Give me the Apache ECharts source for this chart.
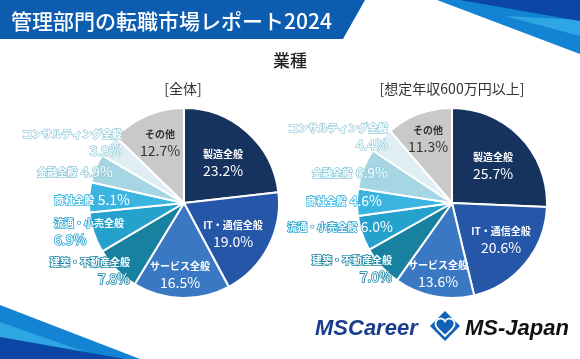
<!DOCTYPE html>
<html>
<head>
<meta charset="utf-8">
<script src="https://cdn.jsdelivr.net/npm/echarts@6/dist/echarts.min.js"></script>
<style>
html,body{margin:0;padding:0;background:#fff;}
#c{width:580px;height:359px;}
</style>
</head>
<body>
<div id="c"></div>
<script>
// ---- data ----
const categories = ['製造全般','IT・通信全般','サービス全般','建築・不動産全般','流通・小売全般','商社全般','金融全般','コンサルティング全般','その他'];
const valuesAll = [23.2, 19.0, 16.5, 7.8, 6.9, 5.1, 4.9, 3.9, 12.7];
const valuesHigh = [25.7, 20.6, 13.6, 7.0, 6.0, 4.6, 6.9, 4.4, 11.3];
const titleText = '管理部門の転職市場レポート2024';
const chartTitle = '業種';
const subTitles = ['[全体]', '[想定年収600万円以上]'];

// ---- styles ----
const sliceColors = ['#16325f','#2656a8','#3a78c4','#17819f','#24a1cd','#3bb4e0','#a6d6e3','#deeef3','#c9c9c9'];
const labelStroke = [null,null,null,'#1a86a6','#28a4d0','#3db6e2','#8fcadb','#9fd0de',null];
const oneLine = [
  [false,false,false,false,false,true,true,false,false],
  [false,false,false,false,true,true,true,false,false]
];
const layouts = [
  [
    {x:223,y:163,align:'center'},
    {x:233,y:234,align:'center'},
    {x:180,y:275,align:'center'},
    {x:130,y:271,align:'right'},
    {x:54,y:232,align:'left'},
    {x:130,y:200,align:'right'},
    {x:113,y:172,align:'right'},
    {x:122,y:143,align:'right'},
    {x:160,y:143,align:'center'}
  ],
  [
    {x:493,y:166,align:'center'},
    {x:501,y:240,align:'center'},
    {x:438,y:274,align:'center'},
    {x:392,y:269,align:'right'},
    {x:393,y:227,align:'right'},
    {x:382,y:201,align:'right'},
    {x:388,y:173,align:'right'},
    {x:388,y:137,align:'right'},
    {x:428,y:139,align:'center'}
  ]
];
const FONT = '"Noto Sans CJK JP","Noto Sans",sans-serif';

function buildData(values, si){
  return categories.map((name, i) => {
    const stroke = labelStroke[i];
    const isOther = i === 8;
    const fill = isOther ? '#333' : '#fff';
    const txt = oneLine[si][i]
      ? '{n|' + name + '} {v|' + values[i].toFixed(1) + '%}'
      : '{n|' + name + '}\n{v|' + values[i].toFixed(1) + '%}';
    const rich = {
      n:{fontSize:10, fontWeight:'bold', lineHeight:15, color:fill, fontFamily:FONT,
         textBorderColor: stroke || 'transparent', textBorderWidth: stroke ? 1.6 : 0},
      v:{fontSize:14, fontWeight:400, lineHeight:17, color:fill, fontFamily:FONT,
         textBorderColor: stroke || 'transparent', textBorderWidth: stroke ? 1.6 : 0}
    };
    return {
      name, value: values[i],
      itemStyle:{color:sliceColors[i]},
      label:{show:true, position:'inside', formatter: txt, rich}
    };
  });
}

const chart = echarts.init(document.getElementById('c'), null, {renderer:'canvas'});

function pieSeries(values, si, center){
  return {
    type:'pie',
    center, radius:95,
    startAngle:90, clockwise:true,
    avoidLabelOverlap:false,
    itemStyle:{borderColor:'#fff', borderWidth:2},
    labelLine:{show:false},
    emphasis:{disabled:true},
    silent:true,
    animation:false,
    labelLayout: function(p){
      const l = layouts[si][p.dataIndex];
      return {x:l.x, y:l.y, align:l.align, verticalAlign:'middle'};
    },
    data: buildData(values, si)
  };
}

const heart = [[445,336],[437.5,328.5],[435.5,325],[435.8,321.5],[438,319],[441,318.4],[443.6,319.5],[445,321.5],[446.4,319.5],[449,318.4],[452,319],[454.2,321.5],[454.5,325],[452.5,328.5]];

const option = {
  backgroundColor:'#fff',
  animation:false,
  series:[
    pieSeries(valuesAll, 0, [184,203]),
    pieSeries(valuesHigh, 1, [452,203])
  ],
  graphic:[
    // top-left banner
    {type:'polygon', z:0, shape:{points:[[0,0],[365,0],[343,39],[0,39]]}, style:{fill:'#0c5db0'}},
    {type:'text', z:2, x:11, y:21, style:{text:titleText, fill:'#fff', font:'500 21px '+FONT, align:'left', verticalAlign:'middle'}},
    // top-right stripes
    {type:'polygon', z:0, shape:{points:[[437,0],[580,0],[580,54]]}, style:{fill:'#1383d3'}},
    {type:'polygon', z:0, shape:{points:[[505,16],[580,20],[580,36]]}, style:{fill:'#2fa6e4'}},
    {type:'polygon', z:0, shape:{points:[[460,0],[580,0],[580,21]]}, style:{fill:'#0b45a6'}},
    // bottom-left stripes
    {type:'polygon', z:0, shape:{points:[[0,305],[140,359],[0,359]]}, style:{fill:'#1383d3'}},
    {type:'polygon', z:0, shape:{points:[[0,322],[105,359],[0,359]]}, style:{fill:'#2fa6e4'}},
    {type:'polygon', z:0, shape:{points:[[0,337],[125,359],[0,359]]}, style:{fill:'#0b45a6'}},
    // titles
    {type:'text', z:2, x:290, y:61, style:{text:chartTitle, fill:'#222', font:'500 17px '+FONT, align:'center', verticalAlign:'middle'}},
    {type:'text', z:2, x:183, y:89, style:{text:subTitles[0], fill:'#333', font:'400 14px '+FONT, align:'center', verticalAlign:'middle'}},
    {type:'text', z:2, x:452, y:89, style:{text:subTitles[1], fill:'#333', font:'400 14px '+FONT, align:'center', verticalAlign:'middle'}},
    // logos
    {type:'text', z:2, x:315, y:329, style:{text:'MSCareer', fill:'#1a3c8c', font:'italic bold 22px "Liberation Sans",Arial,sans-serif', align:'left', verticalAlign:'middle'}},
    {type:'polygon', z:2, shape:{points:[[445,311],[460,326],[445,341],[430,326]]}, style:{fill:'#1261b9'}},
    {type:'polygon', z:3, shape:{points:heart}, style:{fill:'none', stroke:'#fff', lineWidth:1.8}},
    {type:'text', z:2, x:465, y:329, style:{text:'MS-Japan', fill:'#111', font:'italic bold 22px "Liberation Sans",Arial,sans-serif', align:'left', verticalAlign:'middle'}}
  ]
};
chart.setOption(option);
</script>
</body>
</html>
